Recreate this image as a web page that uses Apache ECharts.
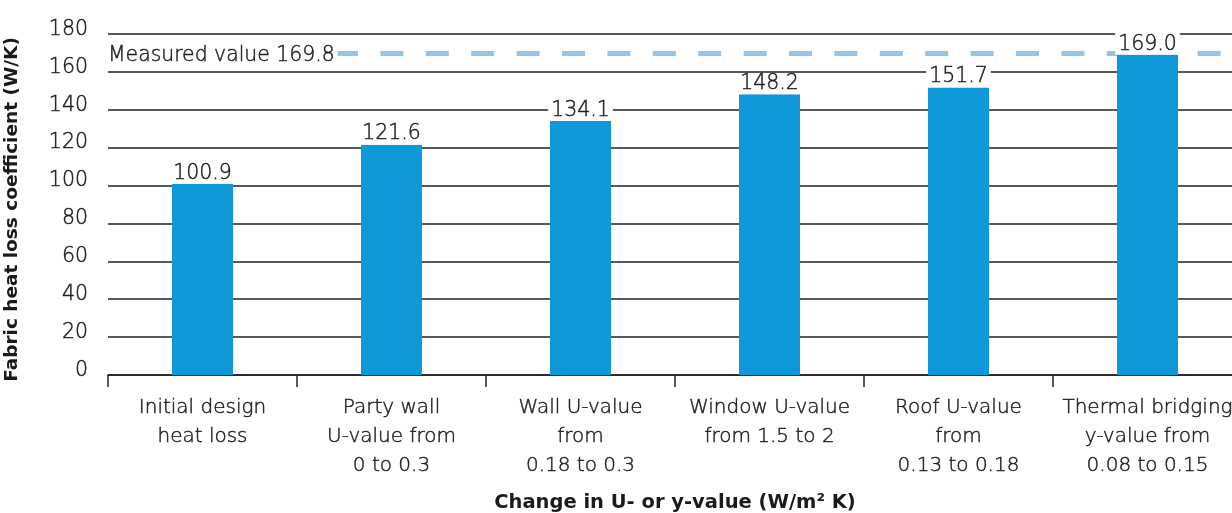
<!DOCTYPE html>
<html>
<head>
<meta charset="utf-8">
<script src="https://cdn.jsdelivr.net/npm/echarts@6/dist/echarts.min.js"></script>
<style>
html,body{margin:0;padding:0;background:#fff;}
#c{width:1232px;height:513px;}
</style>
</head>
<body>
<div id="c"></div>
<script>
const categories = [
  "Initial design\nheat loss",
  "Party wall\nU-value from\n0 to 0.3",
  "Wall U-value\nfrom\n0.18 to 0.3",
  "Window U-value\nfrom 1.5 to 2",
  "Roof U-value\nfrom\n0.13 to 0.18",
  "Thermal bridging\ny-value from\n0.08 to 0.15"
];
const heatLoss = [100.9, 121.6, 134.1, 148.2, 151.7, 169.0];
const measuredValue = 169.8;
const yTicks = [0, 20, 40, 60, 80, 100, 120, 140, 160, 180];

const FONT = '"DejaVu Sans", sans-serif';
const TXT = '#1e1e1e';
const LINE = '#231f20';
const LIGHT = 200;
const thin = {textBorderColor: TXT, textBorderWidth: 0.45};

// The tallest bar's label box reaches up over the top grid line, as in the source.
const barData = heatLoss.map((v, i) =>
  i === heatLoss.length - 1 ? {value: v, label: {padding: [3, 3, 0, 3]}} : v
);

const chart = echarts.init(document.getElementById('c'), null, {renderer: 'canvas'});
chart.setOption({
  animation: false,
  backgroundColor: '#fff',
  textStyle: {fontFamily: FONT},
  grid: {left: 108, top: 34, width: 1134, height: 341, containLabel: false, outerBoundsMode: 'none'},
  xAxis: {
    type: 'category',
    data: categories,
    boundaryGap: true,
    axisLine: {show: true, lineStyle: {color: LINE, width: 1.5}},
    axisTick: {show: true, length: 12, lineStyle: {color: LINE, width: 1.5}},
    axisLabel: Object.assign({
      color: TXT, fontSize: 20, fontWeight: LIGHT, fontFamily: FONT,
      lineHeight: 29, margin: 18, interval: 0
    }, thin),
    name: 'Change in U- or y-value (W/m\u00B2 K)',
    nameLocation: 'middle',
    nameGap: 118,
    nameTextStyle: {color: '#1a1a1a', fontSize: 19.5, fontWeight: 'bold', fontFamily: FONT}
  },
  yAxis: {
    type: 'value',
    min: yTicks[0],
    max: yTicks[yTicks.length - 1],
    interval: yTicks[1] - yTicks[0],
    axisLine: {show: false},
    axisTick: {show: false},
    splitLine: {show: true, lineStyle: {color: LINE, width: 1.5}},
    axisLabel: Object.assign({
      color: TXT, fontSize: 20.5, fontWeight: LIGHT, fontFamily: FONT,
      margin: 20, verticalAlign: 'bottom', lineHeight: 9
    }, thin),
    name: 'Fabric heat loss coefficient (W/K)',
    nameLocation: 'middle',
    nameGap: 86,
    nameTextStyle: {color: '#1a1a1a', fontSize: 18.5, fontWeight: 'bold', fontFamily: FONT, padding: [0, 10, 0, 0]}
  },
  series: [
    {
      type: 'bar',
      data: [],
      z: 1,
      silent: true,
      markLine: {
        silent: true,
        symbol: 'none',
        z: 1,
        lineStyle: {color: '#92c5e9', width: 5, type: [23, 22.4]},
        label: Object.assign({
          show: true,
          position: 'insideStartTop',
          distance: 0,
          offset: [0, 14],
          formatter: 'Measured value ' + measuredValue.toFixed(1),
          color: TXT, fontSize: 20.4, fontWeight: LIGHT, fontFamily: FONT,
          backgroundColor: '#fff',
          padding: [2, 3, 2, 0]
        }, thin),
        data: [{yAxis: measuredValue}]
      }
    },
    {
      type: 'bar',
      data: barData,
      z: 5,
      barWidth: 61,
      barGap: '-100%',
      itemStyle: {color: '#0c98d9'},
      label: Object.assign({
        show: true,
        position: 'top',
        distance: 0,
        formatter: p => p.value.toFixed(1),
        color: TXT, fontSize: 20.5, fontWeight: LIGHT, fontFamily: FONT,
        backgroundColor: '#fff',
        padding: [0, 3, 0, 3],
        lineHeight: 21
      }, thin)
    }
  ]
});
</script>
</body>
</html>
